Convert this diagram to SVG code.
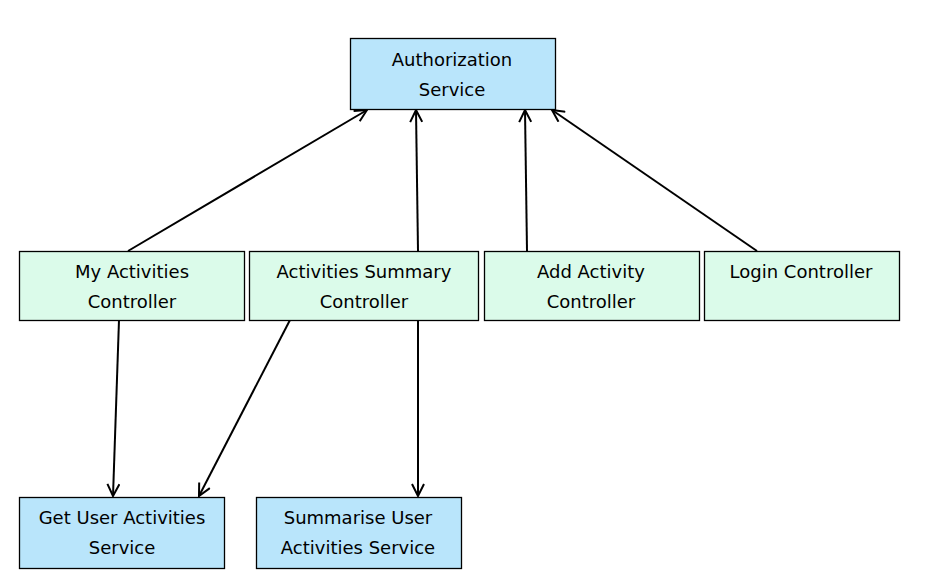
<svg xmlns="http://www.w3.org/2000/svg" width="930" height="588" viewBox="0 0 930 588">
<defs>
<style>
.svc rect{fill:#b9e5fb;stroke:#000;stroke-width:1.3}
.ctl rect{fill:#dbfbea;stroke:#000;stroke-width:1.3}
text{font-family:"DejaVu Sans","Noto Sans",sans-serif;font-size:18px;fill:#000;text-anchor:middle}
.conn line{stroke:#000;stroke-width:2;marker-end:url(#arr)}
</style>
<marker id="arr" viewBox="0 0 14 14" refX="13" refY="7" markerWidth="14" markerHeight="14" markerUnits="userSpaceOnUse" orient="auto">
<path d="M1,1 L13,7 L1,13" fill="none" stroke="#000" stroke-width="2"/>
</marker>
</defs>
<rect width="930" height="588" fill="#fff"/>
<g class="conn">
<line x1="128" y1="251" x2="367" y2="110"/>
<line x1="418" y1="251" x2="416" y2="110"/>
<line x1="527" y1="251" x2="525" y2="110"/>
<line x1="757" y1="251" x2="552" y2="110"/>
<line x1="119" y1="320" x2="113" y2="496"/>
<line x1="290" y1="320" x2="199" y2="496"/>
<line x1="418" y1="320" x2="418" y2="496"/>
</g>
<g id="auth" class="svc"><rect x="350.5" y="38.5" width="205" height="71"/><text x="452" y="66">Authorization</text><text x="452" y="96">Service</text></g>
<g id="myact" class="ctl"><rect x="19.5" y="251.5" width="225" height="69"/><text x="132" y="278">My Activities</text><text x="132" y="308">Controller</text></g>
<g id="actsum" class="ctl"><rect x="249.5" y="251.5" width="229" height="69"/><text x="364" y="278">Activities Summary</text><text x="364" y="308">Controller</text></g>
<g id="addact" class="ctl"><rect x="484.5" y="251.5" width="215" height="69"/><text x="591" y="278">Add Activity</text><text x="591" y="308">Controller</text></g>
<g id="login" class="ctl"><rect x="704.5" y="251.5" width="195" height="69"/><text x="801" y="278">Login Controller</text></g>
<g id="getuser" class="svc"><rect x="19.5" y="497.5" width="205" height="71"/><text x="122" y="524">Get User Activities</text><text x="122" y="554">Service</text></g>
<g id="summ" class="svc"><rect x="256.5" y="497.5" width="205" height="71"/><text x="358" y="524">Summarise User</text><text x="358" y="554">Activities Service</text></g>
</svg>
